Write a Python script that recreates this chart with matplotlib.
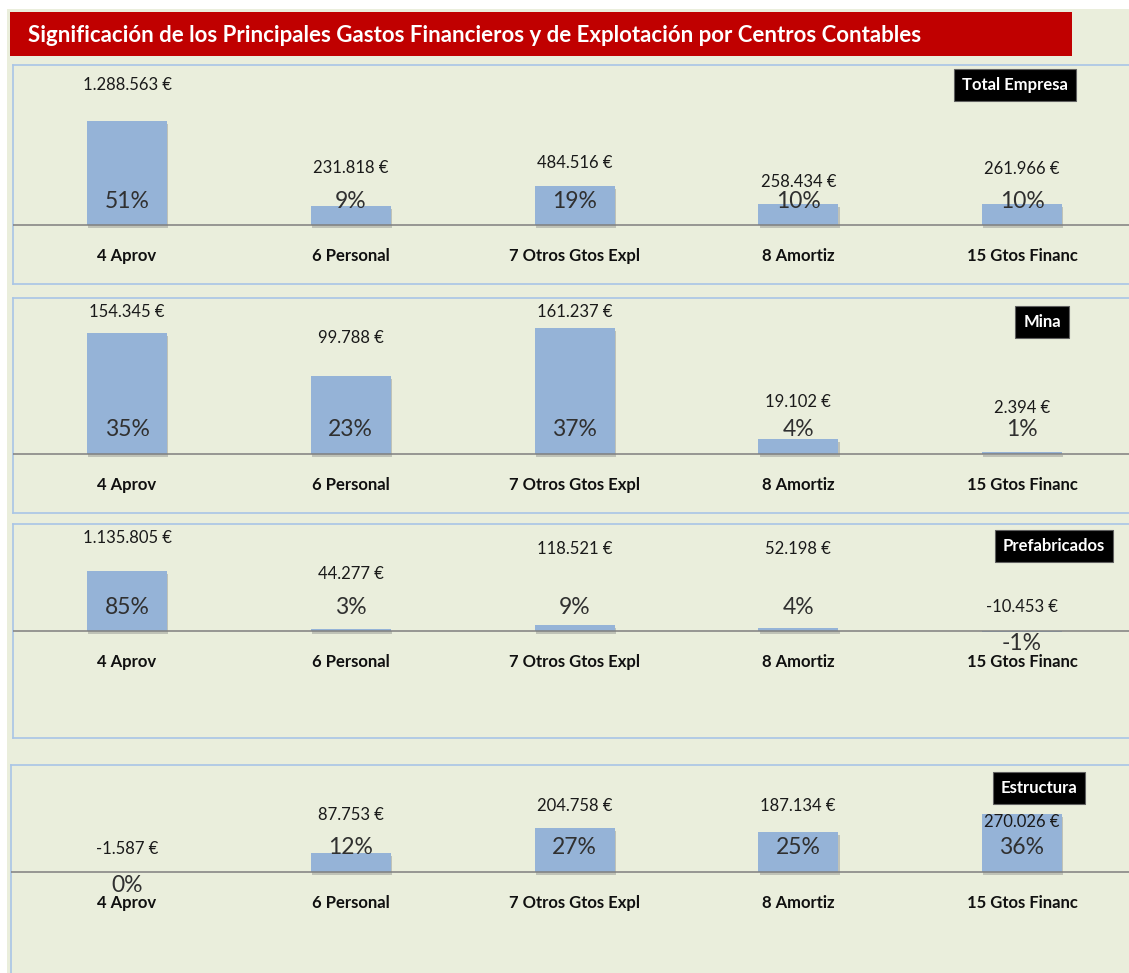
import matplotlib
matplotlib.use("Agg")
import matplotlib.pyplot as plt
import matplotlib.patheffects as pe
from matplotlib.patches import Rectangle

plt.rcParams['font.family'] = ['Lato', 'DejaVu Sans']

# datos
categorias = ['4 Aprov', '6 Personal', '7 Otros Gtos Expl', '8 Amortiz', '15 Gtos Financ']
total_empresa = [1288563, 231818, 484516, 258434, 261966]
mina = [154345, 99788, 161237, 19102, 2394]
prefabricados = [1135805, 44277, 118521, 52198, -10453]
estructura = [-1587, 87753, 204758, 187134, 270026]
centros = ['Total Empresa', 'Mina', 'Prefabricados', 'Estructura']
titulo = 'Significación de los Principales Gastos Financieros y de Explotación por Centros Contables'

W, H = 1129, 973
BG = '#EAEEDC'
BAR = '#95B3D7'
BORDE = '#A9C5E6'

# layout de cada panel en pixeles: (arriba, abajo, izquierda, linea base, alto barra max)
paneles = [
    (65, 284, 13, 225, 104),
    (298, 513, 13, 454, 126),
    (524, 738, 13, 631, 60),
    (765, 1000, 11, 872, 58),
]
# desplazamiento de la etiqueta de valor sobre la barra (px)
off_valor = [
    [36, 38, 23, 22, 35],
    [21, 38, 16, 37, 44],
    [33, 55, 76, 79, 24],
    [23, 38, 22, 26, -8],
]
# caja negra con el nombre del centro (centro x, centro y en px)
cajas = [(1015, 85), (1042, 322), (1054, 546), (1039, 788)]

x0_px, dx_px = 127, 223.75
bar_px = 80
PT = 0.72  # px -> pt a 100 dpi


def fmt_euro(v):
    return '{:,}'.format(v).replace(',', '.') + ' €'


def fmt_pct(v, tot):
    p = int(round(100.0 * v / tot))
    return '{}%'.format(p)


fig = plt.figure(figsize=(W / 100, H / 100), dpi=100)
fig.patch.set_facecolor('white')
fig.patches.append(Rectangle((7 / W, 0), 1, 1 - 9 / H, transform=fig.transFigure,
                             facecolor=BG, edgecolor='none', zorder=-10))

# titulo
fig.patches.append(Rectangle((10 / W, 1 - 56 / H), (1072 - 10) / W, 44 / H,
                             transform=fig.transFigure, facecolor='#C00000',
                             edgecolor='none', zorder=-5))
fig.text(28 / W, 1 - 36 / H, titulo, color='white', fontsize=16,
         fontweight='bold', va='center', ha='left')

series = [total_empresa, mina, prefabricados, estructura]
for k, vals in enumerate(series):
    top, bot, left, base, hmax = paneles[k]
    ax = fig.add_axes([left / W, 1 - bot / H, (W + 2 - left) / W, (bot - top) / H])
    ax.set_facecolor('none')
    escala = hmax / max(vals)  # px por euro
    ax.set_ylim(-(bot - base) / escala, (base - top) / escala)
    ax.set_xlim((left - x0_px) / dx_px, (W + 2 - x0_px) / dx_px)
    x = list(range(len(categorias)))
    barras = ax.bar(x, vals, width=bar_px / dx_px, color=BAR, zorder=2)
    for b in barras:
        b.set_path_effects([pe.SimplePatchShadow(offset=(1, -2), shadow_rgbFace='#808080', alpha=0.4),
                            pe.Normal()])
    ax.axhline(0, color='#7F7F7F', lw=1.1, zorder=3)
    tot = sum(vals)
    for i, v in enumerate(vals):
        ytop = max(v, 0)
        ax.annotate(fmt_euro(v), (i, ytop), xytext=(0, off_valor[k][i] * PT),
                    textcoords='offset points', ha='center', va='center',
                    fontsize=12, color='#1A1A1A', zorder=5)
        if v >= 0:
            dy = 24
        else:
            dy = -13
        ax.annotate(fmt_pct(v, tot), (i, 0), xytext=(0, dy * PT),
                    textcoords='offset points', ha='center', va='center',
                    fontsize=16.5, color='#303030', zorder=5)
        ax.annotate(categorias[i], (i, 0), xytext=(0, -31 * PT),
                    textcoords='offset points', ha='center', va='center',
                    fontsize=12, fontweight='bold', color='#101010', zorder=5)
    ax.set_xticks([])
    ax.set_yticks([])
    for s in ax.spines.values():
        s.set_color(BORDE)
        s.set_linewidth(1.2)
    ax.spines['right'].set_visible(False)
    cx, cy = cajas[k]
    fig.text(cx / W, 1 - cy / H, centros[k], color='white', fontsize=12,
             fontweight='bold', ha='center', va='center',
             bbox=dict(boxstyle='square,pad=0.48', fc='black', ec='#606060', lw=0.8))

fig.savefig('out.png', dpi=100, facecolor=fig.get_facecolor())
